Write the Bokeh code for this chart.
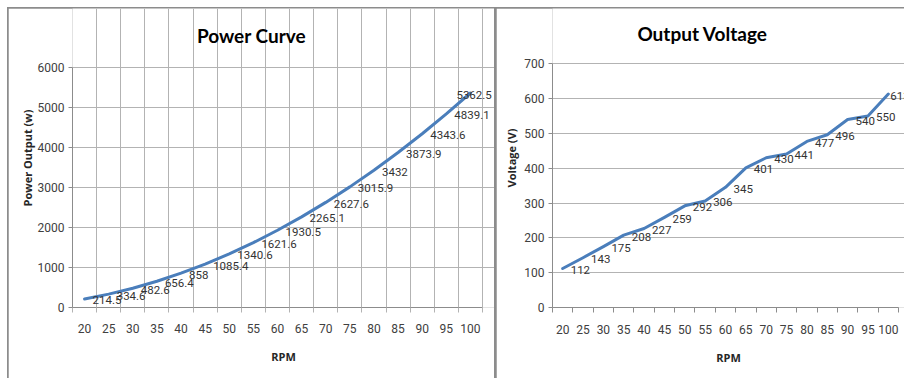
from bokeh.plotting import figure
from bokeh.models import Range1d, FixedTicker, ColumnDataSource, LabelSet, Label
from bokeh.layouts import row
from bokeh.embed import file_html
from bokeh.resources import INLINE
from bokeh.core.properties import value

# Rotor speed categories (RPM)
rpm = [20, 25, 30, 35, 40, 45, 50, 55, 60, 65, 70, 75, 80, 85, 90, 95, 100]

# Generator power output (W) at each speed
power_w = [214.5, 334.6, 482.6, 656.4, 858, 1085.4, 1340.6, 1621.6, 1930.5,
           2265.1, 2627.6, 3015.9, 3432, 3873.9, 4343.6, 4839.1, 5362.5]

# Generator output voltage (V) at each speed
voltage_v = [112, 143, 175, 208, 227, 259, 292, 306, 345, 401, 430, 441,
             477, 496, 540, 550, 613]

power_ticks = [0, 1000, 2000, 3000, 4000, 5000, 6000]
voltage_ticks = [0, 100, 200, 300, 400, 500, 600, 700]

LINE_BLUE = "#4a7ebb"
GRID = "#b3b3b3"
AXIS = "#8c8c8c"
TICK_TXT = "#404040"
TICK_FONT = "Roboto"
TITLE_FONT = "Lato"


def make_chart(title, ylabel, ys, yticks, width, height, plot_box, title_pos,
               vertical_grid, last_dx, x_standoff, y_standoff):
    """plot_box = (left, right, top, bottom) of the axis area in canvas pixels.
    The drawing frame spans the full width to the right and up to the top so
    that titles and data labels are not clipped."""
    pl, pr, pt, pb = plot_box
    half = (rpm[1] - rpm[0]) / 2
    edges = [r - half for r in rpm] + [rpm[-1] + half]
    x0, x1 = edges[0], edges[-1]
    y0, y1 = yticks[0], yticks[-1]
    xs = (pr - pl) / (x1 - x0)          # px per x unit
    ysc = (pb - pt) / (y1 - y0)         # px per y unit
    x_end = x1 + (width - pr) / xs
    y_end = y1 + pt / ysc

    p = figure(width=width, height=height,
               x_range=Range1d(x0, x_end), y_range=Range1d(y0, y_end),
               output_backend="svg", toolbar_location=None,
               min_border_left=pl, min_border_right=0,
               min_border_top=0, min_border_bottom=height - pb)
    p.title.visible = False
    p.background_fill_color = "white"
    p.border_fill_color = "white"
    p.outline_line_color = None

    # category axis: labels at centres, tick marks at category edges
    xa = p.xaxis[0]
    xa.bounds = (x0, x1)
    xa.ticker = FixedTicker(ticks=rpm, minor_ticks=edges)
    xa.major_tick_out = 0
    xa.major_tick_in = 0
    xa.minor_tick_out = 5
    xa.minor_tick_in = 0
    xa.minor_tick_line_color = GRID if vertical_grid else AXIS
    xa.axis_line_color = AXIS
    xa.major_label_standoff = x_standoff
    xa.major_label_text_font = TICK_FONT
    xa.major_label_text_font_size = "12px"
    xa.major_label_text_color = TICK_TXT
    xa.axis_label = "RPM"
    xa.axis_label_text_font = "Open Sans"
    xa.axis_label_text_font_style = "bold"
    xa.axis_label_text_font_size = "11px"
    xa.axis_label_text_color = "#262626"
    xa.axis_label_standoff = 13

    ya = p.yaxis[0]
    ya.bounds = (y0, y1)
    ya.ticker = FixedTicker(ticks=yticks)
    ya.major_tick_out = 4
    ya.major_tick_in = 0
    ya.minor_tick_line_color = None
    ya.axis_line_color = AXIS
    ya.major_tick_line_color = AXIS
    ya.major_label_standoff = 4
    ya.major_label_text_font = TICK_FONT
    ya.major_label_text_font_size = "12px"
    ya.major_label_text_color = TICK_TXT
    ya.axis_label = ylabel
    ya.axis_label_text_font = "Open Sans"
    ya.axis_label_text_font_style = "bold"
    ya.axis_label_text_font_size = "11px"
    ya.axis_label_text_color = "#262626"
    ya.axis_label_standoff = y_standoff

    p.ygrid.ticker = FixedTicker(ticks=yticks)
    p.ygrid.bounds = (x0, x1)
    p.ygrid.grid_line_color = GRID
    if vertical_grid:
        p.xgrid.ticker = FixedTicker(ticks=edges)
        p.xgrid.bounds = (y0, y1)
        p.xgrid.grid_line_color = GRID
    else:
        p.xgrid.visible = False

    dx = [8] * len(rpm)
    dx[-1] = last_dx
    src = ColumnDataSource(dict(x=rpm, y=ys, label=[f"{v:g}" for v in ys], dx=dx))
    p.line("x", "y", source=src, line_color=LINE_BLUE, line_width=3,
           line_cap="round", line_join="round")
    p.add_layout(LabelSet(x="x", y="y", text="label", source=src,
                          x_offset="dx", y_offset=-1.5,
                          text_align="left", text_baseline="middle",
                          text_font=value(TICK_FONT), text_font_size="11.5px",
                          text_color="#333333"))

    tx, ty = title_pos
    p.add_layout(Label(x=x0 + (tx - pl) / xs, y=y_end - ty / ysc,
                       text=title, text_align="center", text_baseline="middle",
                       text_font=TITLE_FONT, text_font_style="bold",
                       text_font_size="19px", text_color="#000000"))
    return p


left_fig = make_chart("Power Curve", "Power Output (w)", power_w, power_ticks,
                      width=486, height=370, plot_box=(64, 474, 59, 299),
                      title_pos=(243, 27), vertical_grid=True, last_dx=-14,
                      x_standoff=11, y_standoff=0)
right_fig = make_chart("Output Voltage", "Voltage (V)", voltage_v, voltage_ticks,
                       width=408, height=370, plot_box=(56, 402, 56, 303),
                       title_pos=(206, 25), vertical_grid=False, last_dx=2,
                       x_standoff=12, y_standoff=2)

left_fig.margin = (1, 0, 0, 1)
right_fig.margin = (1, 0, 0, 2)

page = row(left_fig, right_fig, margin=(7, 0, 0, 7),
           styles={"background-color": "#8c8c8c"})

open("out.html", "w").write(file_html(page, INLINE))
